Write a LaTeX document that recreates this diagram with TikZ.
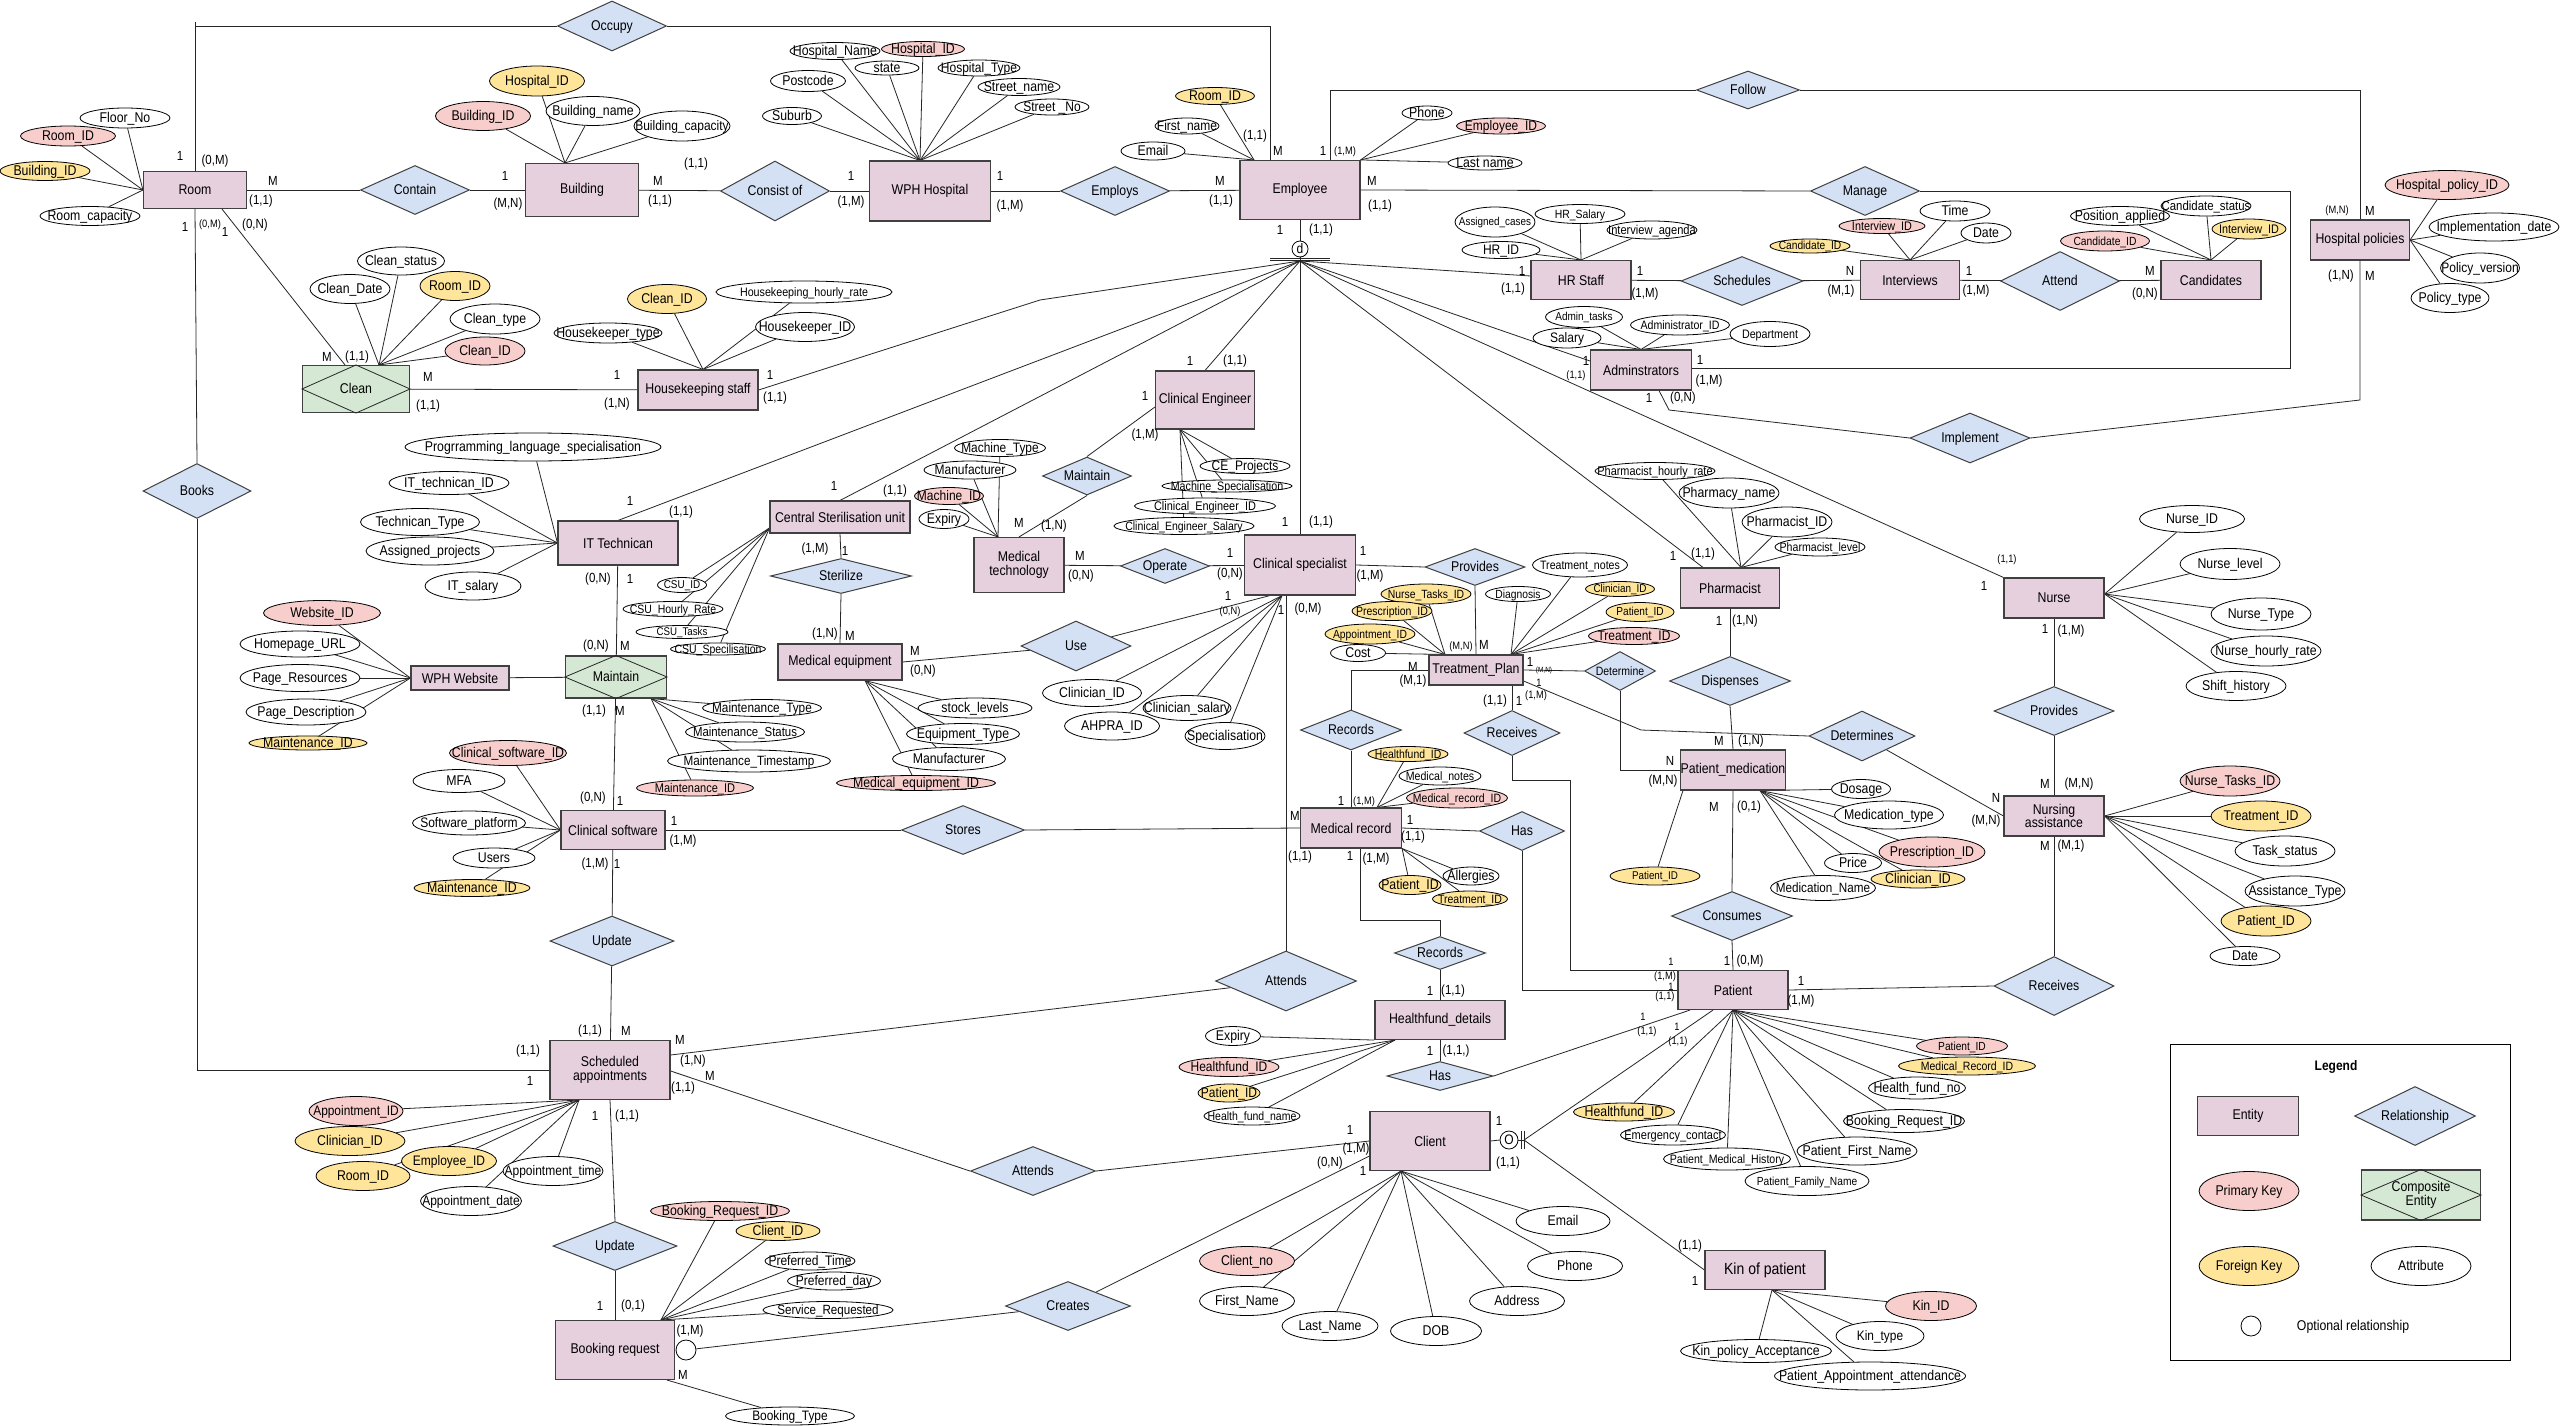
\documentclass[tikz,border=0pt]{standalone}
\usepackage{fontspec}
\setmainfont[FakeStretch=0.87,Scale=1.15]{Liberation Sans}
\usetikzlibrary{shapes.geometric}
\definecolor{entfill}{HTML}{E6D0DE}
\definecolor{relfill}{HTML}{D4E1F5}
\definecolor{compfill}{HTML}{D5E8D4}
\definecolor{pkfill}{HTML}{F8CECC}
\definecolor{fkfill}{HTML}{FFE599}
\pgfdeclarelayer{back}
\pgfdeclarelayer{wires}
\pgfsetlayers{back,wires,main}
% text of zero size, centred on the node
\newcommand\tx[1]{\smash{\makebox[0pt]{\raisebox{-.34em}{#1}}}}
% [font size]{style}{name}{x}{y}{width}{height}{text}
\newcommand\Att[8][12.3]{\node[#2,minimum width=#6pt,minimum height=#7pt,font=\fontsize{#1}{#1}\selectfont] (#3) at (#4,#5) {\tx{#8}};}
\newcommand\Ent[7][]{\node[ent,minimum width=#5pt,minimum height=#6pt,#1] (#2) at (#3,#4) {#7};}
\newcommand\Rel[7][]{\node[rel,minimum width=#5pt,minimum height=#6pt,#1] (#2) at (#3,#4) {\tx{#7}};}
\newcounter{lbc}
\newcommand\Lb[4][card]{\stepcounter{lbc}\node[#1] (lb\arabic{lbc}) at (#3,#4) {#2};}
\tikzset{
  ln/.style={draw=black!85, line width=0.8pt},
  ent/.style={rectangle, draw=black!75, line width=1.1pt, fill=entfill, inner sep=0pt, align=center, font=\fontsize{12.3}{13.5}\selectfont},
  rel/.style={diamond, draw=black!75, line width=1pt, fill=relfill, inner sep=0pt, font=\fontsize{12.3}{13.5}\selectfont},
  comp/.style={rectangle, draw=black!75, line width=1.1pt, fill=compfill, inner sep=0pt},
  att/.style={ellipse, draw=black, line width=0.8pt, fill=white, inner sep=0pt},
  pk/.style={att, fill=pkfill},
  fk/.style={att, fill=fkfill},
  txt/.style={inner sep=0pt, font=\fontsize{12.3}{13.5}\selectfont},
  card/.style={inner sep=0pt, font=\fontsize{11.5}{12}\selectfont},
  cardsm/.style={inner sep=0pt, font=\fontsize{9.3}{10}\selectfont},
  cardxs/.style={inner sep=0pt, font=\fontsize{6.5}{7}\selectfont},
}
\begin{document}
\catcode`\_=12
\begin{tikzpicture}[x=1pt,y=-1pt]
\useasboundingbox (0,0) rectangle (2561,1426);
\begin{pgfonlayer}{back}
\fill[white] (0,0) rectangle (2561,1426);
\end{pgfonlayer}

% ---------------- entities ----------------
\Ent{room}{195}{190}{103}{37}{Room}
\Ent{building}{582}{190}{113}{53}{Building}
\Ent{wph}{930}{191}{121}{60}{WPH Hospital}
\Ent{employee}{1300}{190}{120}{59}{Employee}
\Ent{hk}{698}{390}{120}{40}{Housekeeping staff}
\Ent{it}{618}{543}{120}{44}{IT Technican}
\Ent{csu}{840}{517}{140}{32}{Central Sterilisation unit}
\Ent{ce}{1205}{400}{99}{58}{Clinical Engineer}
\Ent{mt}{1019}{565}{90}{55}{Medical\\technology}
\Ent{csp}{1300}{565}{111}{60}{Clinical specialist}
\Ent{me}{840}{662}{124}{36}{Medical equipment}
\Ent{web}{460}{678}{98}{24}{WPH Website}
\Ent{cs}{613}{830}{104}{39}{Clinical software}
\Ent{sa}{610}{1070}{120}{59}{Scheduled\\appointments}
\Ent{br}{615}{1350}{119}{59}{Booking request}
\Ent{hr}{1581}{280}{100}{39}{HR Staff}
\Ent{adm}{1641}{370}{101}{40}{Adminstrators}
\Ent{int}{1910}{280}{99}{39}{Interviews}
\Ent{cand}{2211}{280}{100}{39}{Candidates}
\Ent{hp}{2360}{240}{99}{40}{Hospital policies}
\Ent{ph}{1730}{588}{99}{40}{Pharmacist}
\Ent{nurse}{2054}{598}{100}{40}{Nurse}
\Ent{na}{2054}{816}{100}{40}{Nursing\\assistance}
\Ent{tp}{1476}{670}{94}{30}{Treatment_Plan}
\Ent{pm}{1733}{770}{104}{40}{Patient_medication}
\Ent{mr}{1351}{828}{101}{40}{Medical record}
\Ent{hd}{1440}{1020}{130}{39}{Healthfund_details}
\Ent{patient}{1733}{990}{110}{39}{Patient}
\Ent{client}{1430}{1141}{120}{59}{Client}
\Ent[font=\fontsize{14}{16}\selectfont]{kin}{1765}{1270}{120}{39}{Kin of patient}

% composite entities
\node[comp, minimum width=107pt, minimum height=47pt] (clean) at (356,389) {};
\draw[ln] (clean.west) -- (clean.north) -- (clean.east) -- (clean.south) -- cycle;
\node[txt] (cleanT) at (clean.center) {\tx{Clean}};
\node[comp, minimum width=101pt, minimum height=42pt] (maint) at (616,677) {};
\draw[ln] (maint.west) -- (maint.north) -- (maint.east) -- (maint.south) -- cycle;
\node[txt] (maintT) at (maint.center) {\tx{Maintain}};

% ---------------- relationships ----------------
\Rel{occupy}{612}{26}{109}{50}{Occupy}
\Rel{contain}{415}{190}{109}{49}{Contain}
\Rel{consistof}{775}{191}{109}{60}{Consist of}
\Rel{employs}{1115}{191}{109}{49}{Employs}
\Rel{books}{197}{491}{108}{55}{Books}
\Rel{follow}{1748}{90}{103}{38}{Follow}
\Rel{manage}{1865}{191}{109}{49}{Manage}
\Rel{schedules}{1742}{281}{122}{49}{Schedules}
\Rel{attend}{2060}{281}{119}{59}{Attend}
\Rel{implement}{1970}{438}{120}{50}{Implement}
\Rel{maint2}{1087}{476}{89}{38}{Maintain}
\Rel{operate}{1165}{566}{89}{35}{Operate}
\Rel{sterilize}{841}{576}{141}{35}{Sterilize}
\Rel{use}{1076}{646}{110}{50}{Use}
\Rel{provides}{1475}{567}{100}{37}{Provides}
\Rel[font=\fontsize{10.5}{11}\selectfont]{determine}{1620}{671}{71}{39}{Determine}
\Rel{dispenses}{1730}{681}{121}{49}{Dispenses}
\Rel{determines}{1862}{736}{106}{50}{Determines}
\Rel{records1}{1351}{730}{101}{40}{Records}
\Rel{receives}{1512}{733}{96}{45}{Receives}
\Rel{has1}{1522}{831}{85}{39}{Has}
\Rel{consumes}{1732}{916}{121}{49}{Consumes}
\Rel{records2}{1440}{953}{91}{33}{Records}
\Rel{has2}{1440}{1076}{106}{29}{Has}
\Rel{provides2}{2054}{711}{120}{49}{Provides}
\Rel{receives2}{2054}{986}{120}{59}{Receives}
\Rel{update1}{612}{941}{124}{50}{Update}
\Rel{stores}{963}{830}{123}{49}{Stores}
\Rel{attends1}{1286}{981}{141}{60}{Attends}
\Rel{attends2}{1033}{1171}{125}{49}{Attends}
\Rel{update2}{615}{1246}{124}{49}{Update}
\Rel{creates}{1068}{1306}{125}{49}{Creates}

% disjoint subtype circle and optional markers
\node[circle, draw=black, line width=0.8pt, fill=white, minimum size=16pt, inner sep=0pt, font=\fontsize{12}{12}\selectfont] (dcirc) at (1300,249) {\tx{d}};
\coordinate (dpt) at (1300,261);
\node[circle, draw=black, line width=0.8pt, fill=white, minimum size=18pt, inner sep=0pt, font=\fontsize{12}{12}\selectfont] (ocirc) at (1509,1140) {\tx{O}};
\coordinate (obar) at (1524,1140);
\node[circle, draw=black, line width=0.8pt, fill=white, minimum size=20pt, inner sep=0pt] (optc) at (686,1350) {};

% ---------------- attributes ----------------
% Room
\Att{att}{aFloor}{125}{118}{90}{20}{Floor_No}
\Att{pk}{aRoomId}{68}{136}{95}{20}{Room_ID}
\Att{fk}{aBldId}{45}{171}{90}{19}{Building_ID}
\Att{att}{aRoomCap}{90}{216}{100}{19}{Room_capacity}
% Building
\Att{fk}{bHospId}{537}{81}{95}{30}{Hospital_ID}
\Att{pk}{bBldId}{483}{116}{95}{29}{Building_ID}
\Att{att}{bName}{593}{111}{94}{29}{Building_name}
\Att[12]{att}{bCap}{682}{126}{96}{30}{Building_capacity}
% WPH Hospital
\Att{att}{hName}{835}{51}{90}{17}{Hospital_Name}
\Att{pk}{hId}{923}{49}{83}{15}{Hospital_ID}
\Att{att}{hState}{887}{68}{64}{14}{state}
\Att[12]{att}{hType}{979}{68}{82}{16}{Hospital_Type}
\Att{att}{hPost}{808}{81}{75}{21}{Postcode}
\Att{att}{hStreet}{1019}{87}{82}{17}{Street_name}
\Att[12]{att}{hNo}{1052}{107}{74}{16}{Street _No}
\Att{att}{hSub}{792}{116}{59}{17}{Suburb}
% Employee
\Att{fk}{eRoom}{1215}{96}{79}{17}{Room_ID}
\Att[12]{att}{eFirst}{1187}{126}{64}{16}{First_name}
\Att{att}{eEmail}{1153}{151}{64}{18}{Email}
\Att{att}{ePhone}{1427}{113}{50}{14}{Phone}
\Att[12]{pk}{eId}{1501}{126}{89}{16}{Employee_ID}
\Att{att}{eLast}{1485}{163}{74}{14}{Last name}
% Clean
\Att{att}{cStatus}{401}{261}{87}{28}{Clean_status}
\Att{att}{cDate}{350}{289}{80}{29}{Clean_Date}
\Att{fk}{cRoom}{455}{286}{70}{29}{Room_ID}
\Att{att}{cType}{495}{319}{90}{30}{Clean_type}
\Att{pk}{cId}{485}{351}{80}{28}{Clean_ID}
% Housekeeping staff
\Att{fk}{kClean}{667}{299}{79}{29}{Clean_ID}
\Att{att}{kType}{608}{333}{108}{20}{Housekeeper_type}
\Att[10.7]{att}{kRate}{804}{292}{176}{22}{Housekeeping_hourly_rate}
\Att{att}{kId}{805}{327}{99}{29}{Housekeeper_ID}
% IT Technican
\Att{att}{tLang}{533}{447}{256}{28}{Progrramming_language_specialisation}
\Att{att}{tId}{449}{483}{120}{23}{IT_technican_ID}
\Att{att}{tType}{420}{522}{119}{27}{Technican_Type}
\Att{att}{tProj}{430}{551}{128}{28}{Assigned_projects}
\Att{att}{tSal}{473}{586}{96}{28}{IT_salary}
% WPH Website
\Att{pk}{wId}{322}{613}{117}{25}{Website_ID}
\Att{att}{wUrl}{300}{644}{120}{26}{Homepage_URL}
\Att{att}{wRes}{300}{678}{120}{27}{Page_Resources}
\Att{att}{wDesc}{306}{712}{120}{26}{Page_Description}
\Att{fk}{wMaint}{308}{743}{118}{14}{Maintenance_ID}
% Clinical software
\Att{pk}{sId}{508}{753}{117}{25}{Clinical_software_ID}
\Att{att}{sMfa}{459}{781}{92}{23}{MFA}
\Att[12]{att}{sPlat}{469}{823}{113}{24}{Software_platform}
\Att{att}{sUsers}{494}{858}{82}{20}{Users}
\Att{fk}{sMaint}{472}{888}{116}{17}{Maintenance_ID}
% Maintain
\Att[11.8]{att}{mType}{762}{708}{119}{17}{Maintenance_Type}
\Att[11.4]{att}{mStatus}{745}{732}{119}{20}{Maintenance_Status}
\Att[11.7]{att}{mTime}{749}{761}{163}{22}{Maintenance_Timestamp}
\Att[11]{pk}{mId}{695}{788}{117}{16}{Maintenance_ID}
% Central Sterilisation unit
\Att[9.9]{att}{uId}{682}{585}{49}{15}{CSU_ID}
\Att[10.5]{att}{uRate}{673}{609}{100}{15}{CSU_Hourly_Rate}
\Att[9.7]{att}{uTasks}{682}{632}{92}{13}{CSU_Tasks}
\Att[10.5]{att}{uSpec}{718}{649}{95}{12}{CSU_Specilisation}
% Medical equipment
\Att{att}{qStock}{975}{708}{114}{20}{stock_levels}
\Att{att}{qType}{963}{734}{113}{21}{Equipment_Type}
\Att{att}{qManu}{949}{759}{113}{23}{Manufacturer}
\Att{pk}{qId}{916}{783}{159}{15}{Medical_equipment_ID}
% Medical technology
\Att[11.9]{att}{vType}{1000}{448}{91}{17}{Machine_Type}
\Att[12]{att}{vManu}{970}{470}{92}{18}{Manufacturer}
\Att[12]{pk}{vId}{949}{496}{69}{17}{Machine_ID}
\Att{att}{vExp}{944}{519}{50}{19}{Expiry}
% Clinical Engineer
\Att[12]{att}{gProj}{1245}{466}{90}{15}{CE_Projects}
\Att[10.7]{att}{gSpec}{1227}{486}{130}{12}{Machine_Specialisation}
\Att[10.9]{att}{gId}{1205}{506}{141}{16}{Clinical_Engineer_ID}
\Att[10.5]{att}{gSal}{1184}{526}{140}{17}{Clinical_Engineer_Salary}
% HR Staff
\Att[9.9]{att}{rCases}{1495}{222}{80}{30}{Assigned_cases}
\Att[10.4]{att}{rSal}{1580}{214}{90}{19}{HR_Salary}
\Att[11.1]{att}{rAgenda}{1652}{230}{90}{18}{Interview_agenda}
\Att[12]{att}{rId}{1501}{250}{78}{17}{HR_ID}
% Adminstrators
\Att[10]{att}{dTasks}{1584}{317}{77}{21}{Admin_tasks}
\Att[12]{att}{dSal}{1567}{338}{68}{20}{Salary}
\Att[10.6]{att}{dId}{1680}{325}{99}{20}{Administrator_ID}
\Att[10.7]{att}{dDept}{1770}{334}{80}{25}{Department}
% Interviews
\Att[10.8]{pk}{iId}{1882}{226}{86}{15}{Interview_ID}
\Att[10.2]{fk}{iCand}{1810}{246}{80}{14}{Candidate_ID}
\Att{att}{iTime}{1955}{211}{70}{20}{Time}
\Att{att}{iDate}{1986}{233}{50}{20}{Date}
% Candidates
\Att{att}{nPos}{2120}{216}{99}{19}{Position_applied}
\Att[11.4]{att}{nStatus}{2206}{206}{90}{20}{Candidate_status}
\Att[10.8]{fk}{nInt}{2249}{229}{74}{20}{Interview_ID}
\Att[10.3]{pk}{nId}{2105}{241}{89}{20}{Candidate_ID}
% Hospital policies
\Att{pk}{oId}{2447}{185}{124}{29}{Hospital_policy_ID}
\Att{att}{oImpl}{2494}{227}{130}{28}{Implementation_date}
\Att[12]{att}{oVer}{2480}{268}{79}{30}{Policy_version}
\Att{att}{oType}{2450}{298}{78}{29}{Policy_type}
% Pharmacist
\Att[10.9]{att}{fRate}{1655}{471}{120}{17}{Pharmacist_hourly_rate}
\Att{att}{fName}{1729}{493}{100}{30}{Pharmacy_name}
\Att{att}{fId}{1787}{522}{90}{30}{Pharmacist_ID}
\Att[10.6]{att}{fLevel}{1820}{547}{90}{18}{Pharmacist_level}
% Nurse
\Att{att}{xId}{2192}{519}{105}{27}{Nurse_ID}
\Att{att}{xLevel}{2230}{564}{100}{31}{Nurse_level}
\Att{att}{xType}{2261}{614}{100}{32}{Nurse_Type}
\Att{att}{xRate}{2266}{651}{110}{30}{Nurse_hourly_rate}
\Att{att}{xShift}{2236}{686}{100}{29}{Shift_history}
% Nursing assistance
\Att{pk}{yId}{2230}{781}{100}{30}{Nurse_Tasks_ID}
\Att{fk}{yTr}{2261}{816}{100}{30}{Treatment_ID}
\Att{att}{yStatus}{2285}{851}{100}{30}{Task_status}
\Att{att}{yType}{2295}{891}{100}{30}{Assistance_Type}
\Att{fk}{yPat}{2266}{921}{90}{30}{Patient_ID}
\Att{att}{yDate}{2245}{956}{70}{19}{Date}
% Treatment_Plan
\Att[10.6]{att}{pNotes}{1580}{565}{95}{24}{Treatment_notes}
\Att[10.3]{att}{pDiag}{1518}{594}{65}{15}{Diagnosis}
\Att[9.9]{fk}{pClin}{1620}{589}{69}{15}{Clinician_ID}
\Att[10.1]{fk}{pPat}{1640}{612}{68}{19}{Patient_ID}
\Att[12]{pk}{pId}{1634}{636}{91}{17}{Treatment_ID}
\Att[10.4]{fk}{pNurse}{1426}{594}{90}{20}{Nurse_Tasks_ID}
\Att[10.5]{fk}{pPres}{1392}{611}{80}{19}{Prescription_ID}
\Att[10.3]{fk}{pAppt}{1370}{634}{90}{20}{Appointment_ID}
\Att{att}{pCost}{1358}{653}{55}{17}{Cost}
% Medical record
\Att[10.4]{fk}{mdHf}{1408}{754}{80}{15}{Healthfund_ID}
\Att[10.6]{att}{mdNotes}{1440}{776}{82}{18}{Medical_notes}
\Att[10.5]{pk}{mdId}{1457}{798}{101}{20}{Medical_record_ID}
\Att{att}{mdAll}{1471}{876}{56}{18}{Allergies}
\Att{fk}{mdPat}{1410}{885}{62}{19}{Patient_ID}
\Att[10.5]{fk}{mdTr}{1470}{899}{75}{16}{Treatment_ID}
% Patient_medication
\Att{att}{pmDos}{1861}{789}{59}{19}{Dosage}
\Att{att}{pmType}{1889}{815}{109}{28}{Medication_type}
\Att{pk}{pmPres}{1932}{852}{106}{30}{Prescription_ID}
\Att{att}{pmPrice}{1853}{863}{57}{19}{Price}
\Att{fk}{pmClin}{1918}{879}{94}{18}{Clinician_ID}
\Att[11.7]{att}{pmName}{1823}{888}{105}{25}{Medication_Name}
\Att[9.8]{fk}{pmPat}{1655}{876}{90}{18}{Patient_ID}
% Patient
\Att[10.2]{pk}{ptId}{1962}{1046}{91}{18}{Patient_ID}
\Att[10.5]{fk}{ptMr}{1967}{1066}{137}{18}{Medical_Record_ID}
\Att{att}{ptHfn}{1917}{1088}{97}{22}{Health_fund_no}
\Att{att}{ptBr}{1904}{1121}{121}{23}{Booking_Request_ID}
\Att{att}{ptFirst}{1857}{1151}{120}{28}{Patient_First_Name}
\Att[10.2]{att}{ptFam}{1807}{1181}{124}{29}{Patient_Family_Name}
\Att[10.6]{att}{ptHist}{1727}{1159}{127}{22}{Patient_Medical_History}
\Att[11]{att}{ptEm}{1673}{1135}{105}{20}{Emergency_contact}
\Att{fk}{ptHf}{1624}{1112}{101}{18}{Healthfund_ID}
% Healthfund_details
\Att{att}{hdExp}{1233}{1036}{55}{19}{Expiry}
\Att[12]{pk}{hdId}{1229}{1067}{100}{19}{Healthfund_ID}
\Att[12]{fk}{hdPat}{1229}{1093}{62}{18}{Patient_ID}
\Att[10.5]{att}{hdName}{1252}{1116}{96}{18}{Health_fund_name}
% Client
\Att{pk}{clNo}{1247}{1261}{95}{29}{Client_no}
\Att{att}{clFirst}{1247}{1301}{95}{29}{First_Name}
\Att{att}{clLast}{1330}{1326}{96}{29}{Last_Name}
\Att{att}{clDob}{1436}{1331}{91}{29}{DOB}
\Att{att}{clAddr}{1517}{1301}{95}{29}{Address}
\Att{att}{clPhone}{1575}{1266}{95}{29}{Phone}
\Att{att}{clEmail}{1563}{1221}{94}{29}{Email}
% Kin of patient
\Att{pk}{knId}{1931}{1306}{91}{29}{Kin_ID}
\Att[11.9]{att}{knType}{1880}{1336}{88}{29}{Kin_type}
\Att{att}{knPol}{1756}{1351}{151}{23}{Kin_policy_Acceptance}
\Att{att}{knAtt}{1870}{1376}{191}{28}{Patient_Appointment_attendance}
% Booking request
\Att{pk}{bqId}{720}{1211}{139}{19}{Booking_Request_ID}
\Att{fk}{bqCl}{778}{1231}{84}{19}{Client_ID}
\Att[12]{att}{bqTime}{810}{1261}{90}{18}{Preferred_Time}
\Att[12]{att}{bqDay}{834}{1281}{93}{18}{Preferred_day}
\Att[11.6]{att}{bqServ}{828}{1310}{130}{17}{Service_Requested}
\Att[11.9]{att}{bqType}{790}{1416}{129}{18}{Booking_Type}
% Scheduled appointments
\Att[11.9]{pk}{apId}{356}{1111}{94}{29}{Appointment_ID}
\Att{fk}{apClin}{350}{1141}{110}{29}{Clinician_ID}
\Att{fk}{apRoom}{363}{1176}{94}{29}{Room_ID}
\Att[12]{fk}{apEmp}{449}{1161}{95}{29}{Employee_ID}
\Att[12]{att}{apTime}{553}{1171}{100}{29}{Appointment_time}
\Att[12]{att}{apDate}{471}{1201}{101}{29}{Appointment_date}
% Clinical specialist
\Att{att}{cpClin}{1092}{693}{99}{27}{Clinician_ID}
\Att{att}{cpAhpra}{1112}{726}{95}{28}{AHPRA_ID}
\Att{att}{cpSal}{1187}{708}{88}{25}{Clinician_salary}
\Att{att}{cpSpec}{1225}{736}{80}{27}{Specialisation}

% ---------------- legend ----------------
\node[draw=black, line width=0.9pt, minimum width=340pt, minimum height=316pt, inner sep=0pt] (lgBox) at (2340,1202) {};
\node[txt, font=\fontsize{12}{14}\selectfont\bfseries] (lgTitle) at (2336,1066) {\tx{Legend}};
\Ent{lgEnt}{2248}{1116}{101}{39}{Entity}
\Rel{lgRel}{2415}{1116}{121}{59}{Relationship}
\Att{pk}{lgPk}{2249}{1191}{100}{39}{Primary Key}
\node[comp, minimum width=119pt, minimum height=50pt] (lgComp) at (2421,1195) {};
\draw[ln] (lgComp.west) -- (lgComp.north) -- (lgComp.east) -- (lgComp.south) -- cycle;
\node[txt, align=center] (lgCompT) at (lgComp.center) {Composite\\Entity};
\Att{fk}{lgFk}{2249}{1266}{100}{39}{Foreign Key}
\Att{att}{lgAtt}{2421}{1266}{100}{39}{Attribute}
\node[circle, draw=black, line width=0.8pt, minimum size=20pt, inner sep=0pt] (lgOpt) at (2251,1326) {};
\node[txt] (lgOptT) at (2353,1326) {\tx{Optional relationship}};

% ---------------- cardinality labels ----------------
\Lb{1}{180}{156} \Lb{(0,M)}{215}{161}
\Lb{M}{273}{181} \Lb{(1,1)}{261}{201}
\Lb{1}{505}{176} \Lb{(M,N)}{508}{204}
\Lb{1}{185}{227} \Lb[cardsm]{(0,M)}{210}{225} \Lb{1}{225}{232} \Lb{(0,N)}{255}{225}
\Lb{M}{327}{357} \Lb{(1,1)}{357}{357}
\Lb{M}{428}{377} \Lb{(1,1)}{428}{406}
\Lb{1}{617}{375} \Lb{(1,N)}{617}{404}
\Lb{M}{658}{181} \Lb{(1,1)}{660}{201} \Lb{(1,1)}{696}{164}
\Lb{1}{851}{176} \Lb{(1,M)}{851}{202}
\Lb{1}{1000}{176} \Lb{(1,M)}{1010}{206}
\Lb{M}{1220}{181} \Lb{(1,1)}{1221}{201}
\Lb{(1,1)}{1255}{136} \Lb{M}{1278}{151}
\Lb{1}{1323}{151} \Lb[cardsm]{(1,M)}{1345}{152}
\Lb{M}{1372}{181} \Lb{(1,1)}{1380}{206}
\Lb{1}{1280}{230} \Lb{(1,1)}{1321}{230}
\Lb{1}{770}{375} \Lb{(1,1)}{775}{398}
\Lb{1}{630}{501} \Lb{(1,1)}{681}{512}
\Lb{1}{834}{486} \Lb{(1,1)}{895}{491}
\Lb{1}{1190}{361} \Lb{(1,1)}{1235}{361}
\Lb{1}{1145}{396} \Lb{(1,M)}{1145}{435}
\Lb{1}{1285}{522} \Lb{(1,1)}{1321}{522}
\Lb{1}{1522}{271} \Lb{(1,1)}{1513}{289}
\Lb{1}{1640}{271} \Lb{(1,M)}{1645}{294}
\Lb{N}{1850}{271} \Lb{(M,1)}{1841}{291}
\Lb{1}{1969}{271} \Lb{(1,M)}{1976}{291}
\Lb{M}{2150}{271} \Lb{(0,N)}{2145}{294}
\Lb{1}{1586}{361} \Lb[cardsm]{(1,1)}{1576}{376}
\Lb{1}{1700}{360} \Lb{(1,M)}{1709}{381}
\Lb{1}{1649}{398} \Lb{(0,N)}{1683}{398}
\Lb[cardsm]{(M,N)}{2337}{211} \Lb{M}{2370}{211}
\Lb{(1,N)}{2341}{276} \Lb{M}{2370}{276}
\Lb{1}{1673}{556} \Lb{(1,1)}{1703}{554}
\Lb{1}{1719}{621} \Lb{(1,N)}{1745}{621}
\Lb[cardsm]{(1,1)}{2007}{560} \Lb{1}{1984}{586}
\Lb{1}{2045}{629} \Lb{(1,M)}{2071}{631}
\Lb{M}{2045}{784} \Lb{(M,N)}{2079}{784}
\Lb{N}{1996}{798} \Lb{(M,N)}{1986}{821}
\Lb{M}{2045}{846} \Lb{(M,1)}{2071}{846}
\Lb{M}{1719}{741} \Lb{(1,N)}{1751}{741}
\Lb{N}{1670}{761} \Lb{(M,N)}{1663}{781}
\Lb{M}{1714}{807} \Lb{(0,1)}{1749}{807}
\Lb{1}{1727}{961} \Lb{(0,M)}{1750}{961}
\Lb[cardsm]{1}{1671}{962} \Lb[cardsm]{(1,M)}{1665}{977} \Lb[cardsm]{1}{1671}{987} \Lb[cardsm]{(1,1)}{1665}{997}
\Lb{1}{1801}{981} \Lb{(1,M)}{1801}{1001}
\Lb[cardsm]{1}{1643}{1017} \Lb[cardsm]{(1,1)}{1647}{1032} \Lb[cardsm]{1}{1677}{1027} \Lb[cardsm]{(1,1)}{1678}{1042}
\Lb[cardsm]{(M,N)}{1461}{647} \Lb{M}{1484}{645} \Lb{M}{1413}{667} \Lb{(M,1)}{1413}{681}
\Lb{1}{1530}{662} \Lb[cardxs]{(M,N)}{1544}{671} \Lb[cardsm]{1}{1539}{683} \Lb[cardsm]{(1,M)}{1536}{696}
\Lb{(1,1)}{1495}{701} \Lb{1}{1519}{701}
\Lb{1}{1363}{551} \Lb{(1,M)}{1370}{576} \Lb{1}{1281}{610} \Lb{(0,M)}{1308}{609}
\Lb{1}{1230}{553} \Lb{(0,N)}{1230}{574} \Lb{1}{1228}{596} \Lb[cardsm]{(0,N)}{1230}{612}
\Lb{M}{1019}{523} \Lb{(1,N)}{1054}{526} \Lb{M}{1080}{556} \Lb{(0,N)}{1081}{576}
\Lb{(1,M)}{815}{549} \Lb{1}{845}{551} \Lb{(1,N)}{825}{634} \Lb{M}{850}{636}
\Lb{M}{915}{651} \Lb{(0,N)}{923}{671}
\Lb{(0,N)}{598}{579} \Lb{1}{630}{579}
\Lb{(0,N)}{596}{646} \Lb{M}{625}{646} \Lb{(1,1)}{594}{711} \Lb{M}{620}{711}
\Lb{(0,N)}{593}{798} \Lb{1}{620}{801} \Lb{(1,M)}{595}{864} \Lb{1}{617}{864}
\Lb{1}{674}{821} \Lb{(1,M)}{683}{841}
\Lb{M}{1295}{816} \Lb{(1,1)}{1300}{857} \Lb{1}{1350}{856} \Lb{(1,M)}{1376}{859}
\Lb{1}{1341}{801} \Lb[cardsm]{(1,M)}{1364}{802} \Lb{1}{1410}{820} \Lb{(1,1)}{1413}{837}
\Lb{1}{1430}{991} \Lb{(1,1)}{1453}{991} \Lb{1}{1430}{1051} \Lb{(1,1,)}{1456}{1051}
\Lb{(1,1)}{590}{1031} \Lb{M}{626}{1031} \Lb{(1,1)}{528}{1051} \Lb{1}{530}{1081}
\Lb{1}{595}{1116} \Lb{(1,1)}{627}{1116}
\Lb{M}{680}{1040} \Lb{(1,N)}{693}{1061} \Lb{M}{710}{1076} \Lb{(1,1)}{683}{1088}
\Lb{1}{600}{1306} \Lb{(0,1)}{633}{1306} \Lb{(1,M)}{690}{1331} \Lb{M}{683}{1375}
\Lb{1}{1350}{1130} \Lb{(1,M)}{1356}{1149} \Lb{(0,N)}{1330}{1163} \Lb{1}{1363}{1171}
\Lb{1}{1499}{1121} \Lb{(1,1)}{1508}{1163}
\Lb{(1,1)}{1690}{1246} \Lb{1}{1695}{1281}

% ---------------- connectors ----------------
\begin{pgfonlayer}{wires}
% frame lines across the top
\draw[ln] (occupy.west) -- (195,26);
\draw[ln] (195,22) -- (room.north);
\draw[ln] (occupy.east) -- (1270,26) -- (1270,26 |- employee.north);
\draw[ln] ([xshift=30pt]employee.north) |- (follow.west);
\draw[ln] (follow.east) -| (hp.north);
\draw[ln] (employee.east) -- (manage.west);
\draw[ln] (manage.east) -- (2290,191) -- (2290,368) -- ([yshift=2pt]adm.east);
\draw[ln] ([xshift=18pt]adm.south) -- (1669,410) -- (implement.west);
\draw[ln] (implement.east) -- (2360,400) -- (hp.south);
% simple chains
\foreach \p/\q in {room/contain, contain/building, building/consistof, consistof/wph, wph/employs, employs/employee,
  clean/hk, hr/schedules, schedules/int, int/attend, attend/cand, it/maint, maint/web, maint/cs, cs/update1, update1/sa,
  mt/operate, operate/csp}
  \draw[ln] (\p) -- (\q);
% subtype fan
\draw[ln] (employee.south) -- (dcirc.north);
\draw[ln] (dcirc.south) -- (dpt);
\draw[ln] (1270,258) -- (1330,258);
\draw[ln] (1270,260.5) -- (1330,260.5);
\draw[ln] (dpt) -- (1040,300) -- (hk.east);
\draw[ln] (dpt) -- (it.north);
\draw[ln] (dpt) -- (csu.north);
\draw[ln] (dpt) -- (ce.north);
\draw[ln] (dpt) -- (csp.north);
\draw[ln] (dpt) -- ([yshift=4pt]hr.west);
\draw[ln] (dpt) -- ([yshift=9pt]adm.west);
\draw[ln] (dpt) -- ([xshift=-27pt]ph.north);
\draw[ln] (dpt) -- (nurse.north west);
% room links
\draw[ln] ([xshift=27pt]room.south) -- ([xshift=-11pt]clean.north);
\draw[ln] (room.south) -- (books.north);
\draw[ln] (books.south) |- (sa.west);
% equipment and staff
\draw[ln] ([yshift=-7pt]ce.west) -- (maint2.north);
\draw[ln] (maint2.south) -- (mt.north);
\draw[ln] (csu.south) -- (sterilize.north);
\draw[ln] (sterilize.south) -- (me.north);
\draw[ln] (me.east) -- (use);
\draw[ln] (use) -- ([xshift=-30pt]csp.south);
\draw[ln] (csp.east) -- (provides.west);
\draw[ln] (provides.south) -- (tp.north);
\draw[ln] (tp.east) -- (determine.west);
\draw[ln] (determine.south) |- (pm.west);
\draw[ln] ([yshift=-11pt]tp.east) -- (1641,730) -- (determines.west);
\draw[ln] (determines) -- (na.west);
\draw[ln] (ph.south) -- (dispenses.north);
\draw[ln] (dispenses.south) -- (pm.north);
\draw[ln] (pm.south) -- (consumes.north);
\draw[ln] (consumes.south) -- (patient.north);
\draw[ln] (tp.west) -| (records1.north);
\draw[ln] (records1.south) -- (mr.north);
\draw[ln] ([xshift=36pt]tp.south) -- (receives.north);
\draw[ln] (receives.south) -- (1512,780) -| (1570,970) -- ([yshift=20pt]patient.west);
\draw[ln] (mr.east) -- (has1.west);
\draw[ln] (has1.south) |- (patient.west);
\draw[ln] ([xshift=9pt]mr.south) -- (1360,920) -| (records2.north);
\draw[ln] (records2.south) -- (hd.north);
\draw[ln] (hd.south) -- (has2.north);
\draw[ln] (has2.east) -- ([xshift=-43pt]patient.south);
\draw[ln] (cs.east) -- (stores.west);
\draw[ln] (stores.east) -- (mr.west);
\draw[ln] ([xshift=-14pt]csp.south) -- (attends1.north);
\draw[ln] (attends1) -- ([yshift=15pt]sa.east);
\draw[ln] ([yshift=-1pt]sa.east) -- (attends2.west);
\draw[ln] (attends2.east) -- (client.west);
\draw[ln] (sa.south) -- (update2.north);
\draw[ln] (update2.south) -- (br.north);
\draw[ln] (optc) -- (creates);
\draw[ln] (creates) -- ([yshift=-15pt]client.west);
\draw[ln] (client.east) -- (ocirc.west);
\draw[ln] (ocirc.east) -- (obar);
\draw[ln] (1521,1131) -- (1521,1149);
\draw[ln] (1524.5,1131) -- (1524.5,1149);
\draw[ln] (obar) -- ([xshift=-20pt]patient.south);
\draw[ln] (obar) -- (kin.west);
\draw[ln] (patient.east) -- (receives2.west);
\draw[ln] (receives2.north) -- (na.south);
\draw[ln] (na.north) -- (provides2.south);
\draw[ln] (provides2.north) -- (nurse.south);
% attribute links
\foreach \a in {aFloor,aRoomId,aBldId,aRoomCap} \draw[ln] (room.west) -- (\a);
\foreach \a in {bHospId,bBldId,bName,bCap} \draw[ln] ([xshift=-17pt]building.north) -- (\a);
\foreach \a in {hName,hId,hState,hType,hPost,hStreet,hNo,hSub} \draw[ln] ([xshift=-10pt]wph.north) -- (\a);
\foreach \a in {eRoom,eFirst,eEmail} \draw[ln] ([xshift=-46pt]employee.north) -- (\a);
\foreach \a in {ePhone,eId,eLast} \draw[ln] (employee.north east) -- (\a);
\foreach \a in {cStatus,cDate,cRoom,cType,cId} \draw[ln] ([xshift=23pt]clean.north) -- (\a);
\foreach \a in {kClean,kType,kRate,kId} \draw[ln] ([xshift=5pt]hk.north) -- (\a);
\foreach \a in {tLang,tId,tType,tProj,tSal} \draw[ln] (it.west) -- (\a);
\foreach \a in {wId,wUrl,wRes,wDesc,wMaint} \draw[ln] (web.west) -- (\a);
\foreach \a in {sId,sMfa,sPlat,sUsers,sMaint} \draw[ln] (cs.west) -- (\a);
\foreach \a in {mType,mStatus,mTime,mId} \draw[ln] ([xshift=35pt]maint.south) -- (\a);
\foreach \a in {uId,uRate,uTasks,uSpec} \draw[ln] ([yshift=-11pt]csu.west) -- (\a);
\foreach \a in {qStock,qType,qManu,qId} \draw[ln] ([xshift=25pt]me.south) -- (\a);
\foreach \a in {vType,vManu,vId,vExp} \draw[ln] ([xshift=-21pt]mt.north) -- (\a);
\foreach \a in {gProj,gSpec,gId,gSal} \draw[ln] ([xshift=-25pt]ce.south) -- (\a);
\foreach \a in {rCases,rSal,rAgenda,rId} \draw[ln] (hr.north) -- (\a);
\foreach \a in {dTasks,dSal,dId,dDept} \draw[ln] (adm.north) -- (\a);
\foreach \a in {iId,iCand,iTime,iDate} \draw[ln] (int.north) -- (\a);
\foreach \a in {nPos,nStatus,nInt,nId} \draw[ln] (cand.north) -- (\a);
\foreach \a in {oId,oImpl,oVer,oType} \draw[ln] (hp.east) -- (\a);
\foreach \a in {fRate,fName,fId,fLevel} \draw[ln] ([xshift=11pt]ph.north) -- (\a);
\foreach \a in {xId,xLevel,xType,xRate,xShift} \draw[ln] ([yshift=4pt]nurse.east) -- (\a);
\foreach \a in {yId,yTr,yStatus,yType,yPat,yDate} \draw[ln] (na.east) -- (\a);
\foreach \a in {pNurse,pPres,pAppt,pCost} \draw[ln] ([xshift=-31pt]tp.north) -- (\a);
\foreach \a in {pNotes,pDiag,pClin,pPat,pId} \draw[ln] ([xshift=35pt]tp.north) -- (\a);
\foreach \a in {mdHf,mdNotes,mdId} \draw[ln] ([xshift=26pt]mr.north) -- (\a);
\foreach \a in {mdAll,mdPat,mdTr} \draw[ln] (mr.south east) -- (\a);
\foreach \a in {pmDos,pmType,pmPres,pmPrice,pmClin,pmName} \draw[ln] ([xshift=27pt]pm.south) -- (\a);
\draw[ln] ([xshift=-50pt]pm.south) -- (pmPat);
\foreach \a in {ptId,ptMr,ptHfn,ptBr,ptFirst,ptFam,ptHist,ptEm,ptHf} \draw[ln] (patient.south) -- (\a);
\draw[ln] (hd.south west) -- (hdExp);
\foreach \a in {hdId,hdPat,hdName} \draw[ln] ([xshift=-45pt]hd.south) -- (\a);
\foreach \a in {clNo,clFirst,clLast,clDob,clAddr,clPhone,clEmail} \draw[ln] ([xshift=-29pt]client.south) -- (\a);
\foreach \a in {knId,knType,knPol,knAtt} \draw[ln] ([xshift=7pt]kin.south) -- (\a);
\foreach \a in {bqId,bqCl,bqTime,bqDay,bqServ} \draw[ln] ([xshift=46pt]br.north) -- (\a);
\draw[ln] ([xshift=52pt]br.south) -- (bqType);
\foreach \a in {apId,apClin,apRoom,apEmp,apTime,apDate} \draw[ln] ([xshift=-31pt]sa.south) -- (\a);
\foreach \a in {cpClin,cpAhpra,cpSal,cpSpec} \draw[ln] ([xshift=-18pt]csp.south) -- (\a);
\end{pgfonlayer}
\end{tikzpicture}
\end{document}
